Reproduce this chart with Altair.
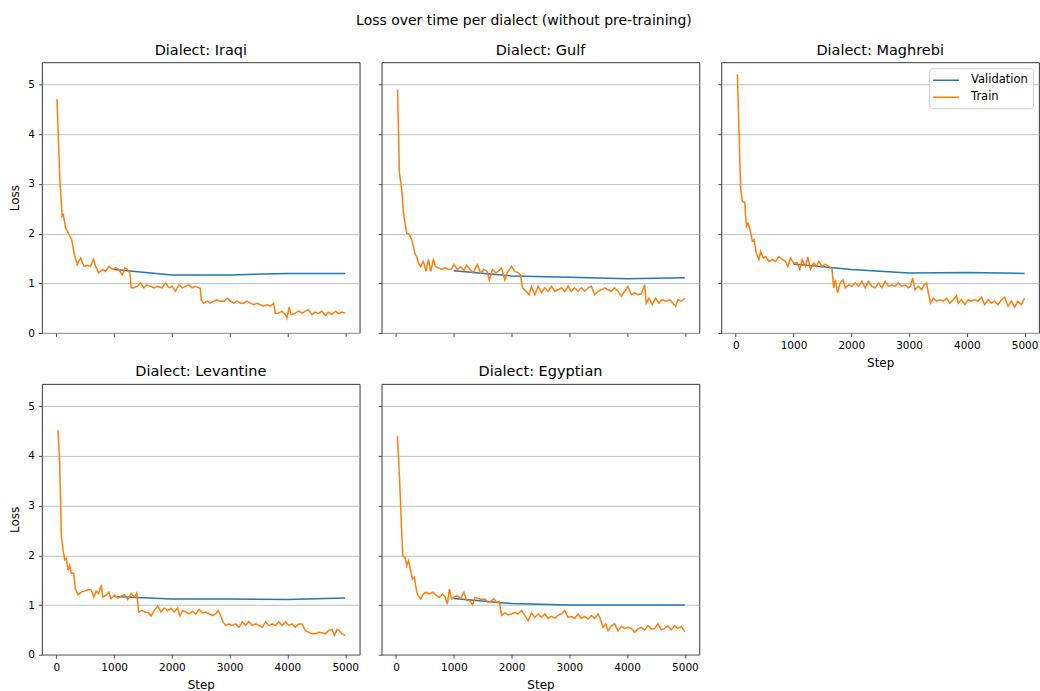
import altair as alt
import pandas as pd

FONT = "DejaVu Sans"
DIALECTS = ["Iraqi", "Gulf", "Maghrebi", "Levantine", "Egyptian"]
SPLITS = ["Validation", "Train"]
COLORS = ["#1f77b4", "#ff7f0e"]
X_TICKS = [0, 1000, 2000, 3000, 4000, 5000]
Y_TICKS = [0, 1, 2, 3, 4, 5]

VAL_STEPS = [1000, 2000, 3000, 4000, 5000]
VAL_IRAQI = [1.28, 1.17, 1.17, 1.20, 1.20]
VAL_GULF = [1.255, 1.15, 1.12, 1.09, 1.11]
VAL_MAGHREBI = [1.39, 1.28, 1.21, 1.22, 1.20]
VAL_LEVANTINE = [1.17, 1.12, 1.12, 1.11, 1.14]
VAL_EGYPTIAN = [1.13, 1.03, 1.00, 1.00, 1.00]

IRAQI_STEPS = [10, 60, 100, 120, 160, 220, 265, 305, 360, 420, 480, 535, 590, 640, 680, 730, 800, 850, 910, 970,
               1025, 1080, 1140, 1185, 1225, 1270, 1295, 1340, 1400, 1460, 1515, 1570, 1630, 1690, 1745, 1830, 1890,
               1950, 2005, 2060, 2120, 2180, 2235, 2290, 2350, 2410, 2465, 2490, 2505, 2550, 2610, 2665, 2725, 2780,
               2840, 2900, 2965, 3010, 3070, 3130, 3185, 3245, 3300, 3360, 3415, 3475, 3530, 3590, 3645, 3705, 3760,
               3790, 3850, 3905, 3965, 3990, 4030, 4065, 4135, 4195, 4250, 4310, 4365, 4425, 4480, 4540, 4595, 4655,
               4710, 4770, 4830, 4885, 4945, 5000]
IRAQI_LOSS = [4.71, 3.09, 2.35, 2.38, 2.11, 1.98, 1.88, 1.61, 1.38, 1.51, 1.34, 1.36, 1.34, 1.48, 1.34, 1.21, 1.28,
              1.24, 1.34, 1.28, 1.31, 1.28, 1.17, 1.31, 1.28, 1.21, 0.91, 0.91, 0.94, 1.01, 0.91, 0.97, 0.94, 0.91,
              0.94, 0.91, 1.01, 0.91, 0.94, 0.84, 0.97, 0.91, 0.94, 0.97, 0.91, 0.94, 0.91, 0.90, 0.67, 0.60, 0.64,
              0.60, 0.64, 0.67, 0.64, 0.64, 0.70, 0.64, 0.60, 0.64, 0.60, 0.60, 0.64, 0.60, 0.57, 0.60, 0.57, 0.54,
              0.57, 0.54, 0.60, 0.40, 0.40, 0.44, 0.37, 0.30, 0.52, 0.37, 0.40, 0.44, 0.40, 0.44, 0.47, 0.37, 0.42,
              0.39, 0.44, 0.35, 0.42, 0.37, 0.44, 0.39, 0.42, 0.40]

GULF_STEPS = [25, 58, 98, 127, 155, 185, 230, 270, 300, 330, 357, 385, 425, 472, 518, 560, 600, 645, 685, 730, 790,
              847, 905, 962, 1002, 1060, 1117, 1175, 1221, 1279, 1336, 1405, 1463, 1520, 1578, 1613, 1670, 1728, 1768,
              1826, 1884, 1924, 1999, 2056, 2114, 2154, 2189, 2247, 2304, 2344, 2402, 2460, 2517, 2575, 2632, 2690,
              2748, 2805, 2863, 2920, 2978, 3036, 3093, 3151, 3208, 3266, 3324, 3381, 3439, 3497, 3554, 3612, 3669,
              3727, 3785, 3842, 3900, 3957, 4015, 4072, 4130, 4188, 4245, 4303, 4332, 4378, 4435, 4493, 4551, 4608,
              4677, 4735, 4793, 4839, 4879, 4937, 5000]
GULF_LOSS = [4.90, 3.22, 2.89, 2.42, 2.21, 2.01, 1.98, 1.88, 1.74, 1.58, 1.54, 1.41, 1.34, 1.44, 1.24, 1.48, 1.24,
             1.48, 1.34, 1.31, 1.28, 1.31, 1.28, 1.29, 1.38, 1.28, 1.33, 1.26, 1.36, 1.28, 1.21, 1.38, 1.21, 1.28,
             1.24, 1.07, 1.28, 1.21, 1.24, 1.31, 1.07, 1.21, 1.34, 1.24, 1.21, 1.17, 0.91, 0.84, 0.77, 0.94, 0.77,
             0.94, 0.81, 0.91, 0.84, 0.94, 0.84, 0.87, 0.91, 0.84, 0.94, 0.84, 0.91, 0.84, 0.91, 0.84, 0.91, 0.94,
             0.77, 0.84, 0.87, 0.91, 0.87, 0.84, 0.91, 0.84, 0.74, 0.84, 0.94, 0.77, 0.81, 0.77, 0.79, 0.97, 0.60,
             0.70, 0.57, 0.70, 0.60, 0.67, 0.64, 0.67, 0.60, 0.54, 0.67, 0.64, 0.70]

MAGHREBI_STEPS = [29, 57, 86, 115, 155, 184, 213, 247, 287, 316, 356, 402, 431, 477, 517, 575, 632, 690, 747, 805,
                  862, 902, 948, 1006, 1063, 1109, 1149, 1207, 1247, 1293, 1351, 1397, 1437, 1494, 1552, 1609, 1667,
                  1695, 1724, 1764, 1810, 1856, 1897, 1954, 2011, 2069, 2126, 2184, 2241, 2299, 2356, 2414, 2471,
                  2529, 2586, 2644, 2701, 2759, 2816, 2874, 2931, 2989, 3029, 3063, 3103, 3161, 3218, 3259, 3305,
                  3333, 3374, 3420, 3477, 3534, 3592, 3649, 3707, 3764, 3822, 3851, 3908, 3966, 4023, 4080, 4138,
                  4195, 4253, 4310, 4368, 4425, 4483, 4540, 4598, 4655, 4713, 4770, 4828, 4885, 4943, 5000]
MAGHREBI_LOSS = [5.21, 4.03, 2.89, 2.65, 2.63, 2.15, 2.21, 2.08, 1.85, 1.88, 1.61, 1.48, 1.64, 1.51, 1.54, 1.44,
                 1.48, 1.44, 1.54, 1.48, 1.44, 1.34, 1.51, 1.40, 1.42, 1.28, 1.48, 1.34, 1.53, 1.28, 1.41, 1.34,
                 1.44, 1.34, 1.38, 1.34, 1.28, 0.91, 1.07, 0.81, 1.01, 1.07, 0.91, 0.97, 0.94, 1.01, 0.94, 1.04,
                 0.91, 1.04, 0.94, 0.91, 1.01, 0.91, 1.04, 0.94, 0.97, 0.94, 1.01, 0.94, 0.97, 0.91, 0.95, 1.11,
                 0.87, 0.94, 0.87, 0.97, 1.01, 0.81, 0.60, 0.70, 0.64, 0.67, 0.64, 0.70, 0.60, 0.67, 0.75, 0.60,
                 0.67, 0.57, 0.67, 0.64, 0.67, 0.64, 0.72, 0.57, 0.67, 0.60, 0.64, 0.57, 0.67, 0.72, 0.54, 0.64,
                 0.52, 0.64, 0.57, 0.70]

LEVANTINE_STEPS = [29, 57, 86, 115, 144, 172, 201, 230, 259, 299, 328, 374, 431, 489, 546, 603, 649, 690, 730, 776,
                   805, 862, 908, 948, 1006, 1063, 1121, 1178, 1236, 1293, 1351, 1391, 1425, 1483, 1540, 1598, 1638,
                   1695, 1753, 1810, 1868, 1925, 1983, 2040, 2098, 2138, 2184, 2241, 2299, 2356, 2414, 2471, 2529,
                   2586, 2644, 2701, 2759, 2799, 2845, 2885, 2931, 2989, 3046, 3103, 3161, 3218, 3276, 3333, 3391,
                   3448, 3506, 3563, 3621, 3678, 3736, 3793, 3851, 3908, 3966, 4023, 4080, 4138, 4195, 4253, 4310,
                   4368, 4425, 4483, 4540, 4598, 4655, 4713, 4770, 4816, 4856, 4897, 4943, 5000]
LEVANTINE_LOSS = [4.52, 3.83, 2.41, 2.11, 1.91, 1.94, 1.70, 1.80, 1.64, 1.64, 1.33, 1.20, 1.26, 1.28, 1.31, 1.30,
                  1.16, 1.28, 1.23, 1.40, 1.16, 1.20, 1.26, 1.13, 1.20, 1.14, 1.18, 1.21, 1.11, 1.23, 1.16, 1.24,
                  0.86, 0.89, 0.86, 0.84, 0.78, 0.89, 0.98, 0.86, 0.94, 0.89, 0.93, 0.86, 0.94, 0.78, 0.89, 0.86,
                  0.82, 0.87, 0.82, 0.91, 0.84, 0.86, 0.82, 0.79, 0.82, 0.89, 0.79, 0.66, 0.59, 0.62, 0.59, 0.62,
                  0.55, 0.66, 0.59, 0.67, 0.59, 0.62, 0.59, 0.55, 0.66, 0.59, 0.62, 0.59, 0.66, 0.59, 0.66, 0.59,
                  0.62, 0.55, 0.62, 0.62, 0.49, 0.45, 0.42, 0.42, 0.45, 0.44, 0.42, 0.49, 0.51, 0.39, 0.51, 0.49,
                  0.42, 0.39]

EGYPTIAN_STEPS = [23, 58, 98, 115, 155, 184, 213, 242, 282, 317, 357, 386, 426, 472, 518, 576, 634, 691, 749, 806,
                  847, 887, 922, 962, 1020, 1060, 1118, 1175, 1221, 1279, 1325, 1365, 1423, 1480, 1538, 1596, 1653,
                  1694, 1740, 1786, 1826, 1884, 1941, 1999, 2057, 2114, 2172, 2229, 2287, 2344, 2402, 2460, 2517,
                  2575, 2632, 2690, 2748, 2805, 2863, 2920, 2978, 3036, 3093, 3151, 3209, 3266, 3324, 3381, 3439,
                  3497, 3537, 3583, 3629, 3669, 3727, 3784, 3842, 3900, 3957, 4015, 4073, 4130, 4188, 4246, 4303,
                  4361, 4418, 4476, 4533, 4591, 4649, 4706, 4764, 4822, 4879, 4937, 5000]
EGYPTIAN_LOSS = [4.40, 3.60, 2.46, 1.99, 1.96, 1.79, 1.89, 1.76, 1.52, 1.56, 1.26, 1.19, 1.12, 1.22, 1.26, 1.22,
                 1.26, 1.20, 1.15, 1.22, 1.17, 1.02, 1.32, 1.12, 1.17, 1.19, 1.13, 1.26, 1.09, 1.09, 1.00, 1.15,
                 1.13, 1.11, 1.12, 1.05, 1.09, 1.13, 1.05, 1.07, 0.79, 0.84, 0.80, 0.82, 0.85, 0.82, 0.89, 0.79,
                 0.68, 0.84, 0.75, 0.82, 0.75, 0.82, 0.73, 0.77, 0.73, 0.79, 0.82, 0.89, 0.75, 0.77, 0.73, 0.82,
                 0.73, 0.77, 0.72, 0.79, 0.73, 0.82, 0.72, 0.55, 0.62, 0.48, 0.58, 0.62, 0.48, 0.57, 0.53, 0.55,
                 0.53, 0.45, 0.52, 0.55, 0.50, 0.58, 0.52, 0.53, 0.62, 0.50, 0.53, 0.58, 0.50, 0.58, 0.53, 0.57,
                 0.46]

TRAIN = {
    "Iraqi": (IRAQI_STEPS, IRAQI_LOSS),
    "Gulf": (GULF_STEPS, GULF_LOSS),
    "Maghrebi": (MAGHREBI_STEPS, MAGHREBI_LOSS),
    "Levantine": (LEVANTINE_STEPS, LEVANTINE_LOSS),
    "Egyptian": (EGYPTIAN_STEPS, EGYPTIAN_LOSS),
}
VAL = {
    "Iraqi": VAL_IRAQI,
    "Gulf": VAL_GULF,
    "Maghrebi": VAL_MAGHREBI,
    "Levantine": VAL_LEVANTINE,
    "Egyptian": VAL_EGYPTIAN,
}

PANEL_W = 318
PANEL_H = 271


def panel(idx, name):
    col = idx % 3
    show_y = col == 0
    show_x = name in ("Maghrebi", "Levantine", "Egyptian")
    steps, losses = TRAIN[name]
    df_train = pd.DataFrame({"step": steps, "loss": losses, "split": "Train"})
    df_val = pd.DataFrame({"step": VAL_STEPS, "loss": VAL[name], "split": "Validation"})

    x = alt.X(
        "step:Q",
        scale=alt.Scale(domain=[-250, 5250], nice=False, zero=False),
        axis=alt.Axis(values=X_TICKS, labels=show_x, title="Step" if show_x else None, grid=False,
                      format="d", titlePadding=7),
    )
    y = alt.Y(
        "loss:Q",
        scale=alt.Scale(domain=[0, 5.45], nice=False, zero=False),
        axis=alt.Axis(values=Y_TICKS, labels=show_y, title="Loss" if show_y else None, grid=True,
                      format="d", titlePadding=6),
    )
    if name == "Maghrebi":
        legend = alt.Legend(
            orient="top-right", offset=6, title=None,
            symbolType="M-2.1667,0L2.1667,0", symbolStrokeWidth=1.5, symbolSize=144,
            symbolOffset=5, labelOffset=18,
            labelFontSize=11.5, labelFont=FONT, labelColor="black",
            fillColor="white", strokeColor="#cccccc", cornerRadius=3, padding=5,
            rowPadding=4,
        )
    else:
        legend = None
    color = alt.Color("split:N", scale=alt.Scale(domain=SPLITS, range=COLORS), legend=legend)

    val = alt.Chart(df_val).mark_line(strokeWidth=1.5).encode(x=x, y=y, color=color)
    train = alt.Chart(df_train).mark_line(strokeWidth=1.5).encode(x=x, y=y, color=color)
    return alt.layer(val, train).properties(
        width=PANEL_W, height=PANEL_H,
        title=alt.TitleParams(f"Dialect: {name}", fontSize=14.5, font=FONT, fontWeight="normal",
                              color="black", anchor="middle", offset=4),
    )


panels = [panel(i, n) for i, n in enumerate(DIALECTS)]

chart = alt.concat(
    *panels, columns=3, spacing={"row": 51, "column": 22}, bounds="flush",
).resolve_scale(color="independent").properties(
    title=alt.TitleParams("Loss over time per dialect (without pre-training)", fontSize=14, font=FONT,
                          fontWeight="normal", color="black", anchor="middle", offset=14),
    padding={"left": 8, "top": 14, "right": 0, "bottom": 0},
).configure_view(
    stroke="#222222", strokeWidth=0.9,
).configure_axis(
    domain=False, tickColor="#222222", tickSize=3.5, tickWidth=0.8, labelColor="black",
    labelFontSize=10.5, labelFont=FONT, titleFont=FONT, titleFontSize=12, titleFontWeight="normal",
    titleColor="black", labelPadding=4, gridColor="#b0b0b0", gridWidth=0.8,
)

chart.save("out.html", embed_options={"renderer": "svg", "actions": False})
